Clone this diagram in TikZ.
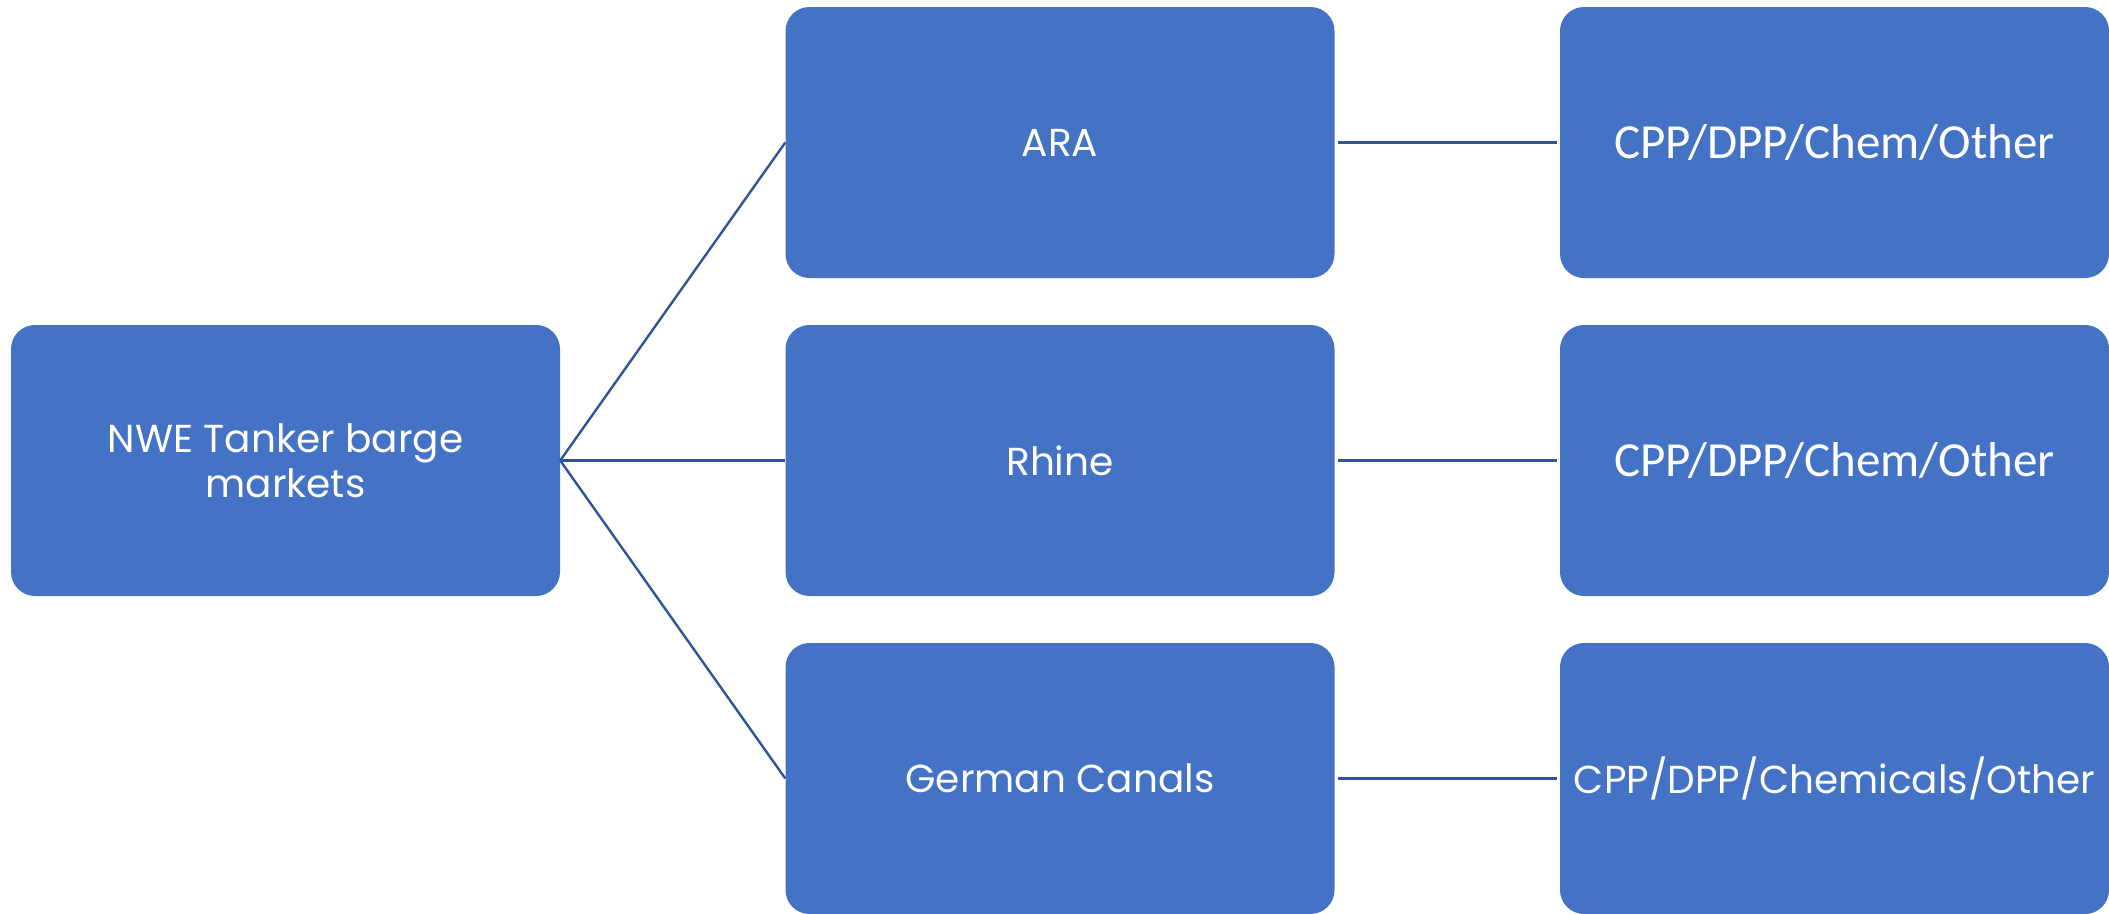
\documentclass[tikz,border=0pt]{standalone}
\usepackage{fontspec}
\setmainfont{Poppins}
\newfontfamily\narrowfont{Carlito}
\definecolor{boxblue}{RGB}{68,114,196}
\definecolor{linkblue}{RGB}{47,85,151}
\begin{document}
\begin{tikzpicture}[x=1pt,y=-1pt,
  market/.style={fill=boxblue, rounded corners=24pt, text=white, align=center,
    minimum width=549pt, minimum height=271pt, inner sep=0pt,
    font=\fontsize{39}{45}\selectfont},
  product/.style={market, font=\narrowfont\fontsize{49}{54}\selectfont},
  link/.style={draw=linkblue, line width=2.4pt}]
\useasboundingbox (0,0) rectangle (2109,913);
\begin{scope}
\clip (0,0) rectangle (2109,913);
\node[market] (root) at (285.5,460.5) {NWE Tanker barge\\markets};
\node[market] (ara) at (1060,142.5) {ARA};
\node[market] (rhine) at (1060,460.5) {Rhine};
\node[market] (canals) at (1060,778.5) {German Canals};
\node[product] (ara2) at (1834.5,142.5) {CPP/DPP/Chem/Other};
\node[product] (rhine2) at (1834.5,460.5) {CPP/DPP/Chem/Other};
\node[market] (canals2) at (1834.5,778.5) {CPP/DPP/Chemicals/Other};
\end{scope}
\draw[link] (root.east) -- (ara.west);
\draw[link] (root.east) -- (rhine.west);
\draw[link] (root.east) -- (canals.west);
\draw[link] ([xshift=3pt]ara.east) -- ([xshift=-3pt]ara2.west);
\draw[link] ([xshift=3pt]rhine.east) -- ([xshift=-3pt]rhine2.west);
\draw[link] ([xshift=3pt]canals.east) -- ([xshift=-3pt]canals2.west);
\end{tikzpicture}
\end{document}
